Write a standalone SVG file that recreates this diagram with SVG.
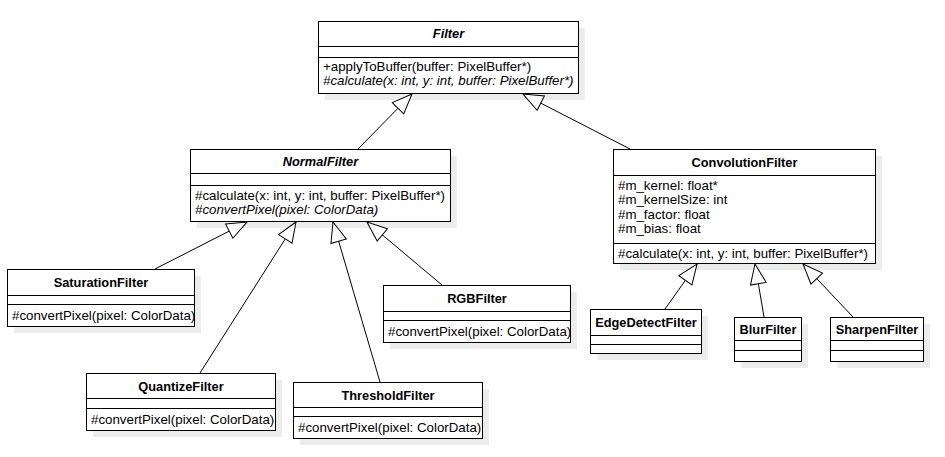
<svg xmlns="http://www.w3.org/2000/svg" width="945" height="457" viewBox="0 0 945 457">
<style>
.shadow{fill:#ececec;stroke:none}
.box{fill:#ffffff;stroke:#000000;stroke-width:1}
.div{stroke:#000000;stroke-width:1}
text{font-family:"Liberation Sans",Arial,sans-serif;font-size:13.3px;fill:#000000}
.title{font-weight:bold;text-anchor:middle;font-size:12.8px}
.abs{font-style:italic}
.conn{fill:none;stroke:#000000;stroke-width:1}
</style>
<defs>
<marker id="gen" markerUnits="userSpaceOnUse" viewBox="-1 -1 22 18" refX="20" refY="8" markerWidth="22" markerHeight="18" orient="auto">
<path d="M0,0 L20,8 L0,16 Z" fill="#ffffff" stroke="#000000" stroke-width="1"/>
</marker>
</defs>
<rect width="945" height="457" fill="#ffffff"/>

<g id="Filter">
<rect class="shadow" x="325" y="28" width="260" height="72"/>
<rect class="box" x="318.5" y="21.5" width="260" height="72"/>
<line class="div" x1="318.5" y1="46.5" x2="578.5" y2="46.5"/>
<line class="div" x1="318.5" y1="57.5" x2="578.5" y2="57.5"/>
<text class="title abs" x="448.5" y="38">Filter</text>
<text x="323" y="71">+applyToBuffer(buffer: PixelBuffer*)</text>
<text class="abs" x="323" y="85">#calculate(x: int, y: int, buffer: PixelBuffer*)</text>
</g>

<g id="NormalFilter">
<rect class="shadow" x="197" y="156" width="260" height="72"/>
<rect class="box" x="190.5" y="149.5" width="260" height="72"/>
<line class="div" x1="190.5" y1="173.5" x2="450.5" y2="173.5"/>
<line class="div" x1="190.5" y1="185.5" x2="450.5" y2="185.5"/>
<text class="title abs" x="320.5" y="166">NormalFilter</text>
<text x="195" y="200">#calculate(x: int, y: int, buffer: PixelBuffer*)</text>
<text class="abs" x="195" y="214">#convertPixel(pixel: ColorData)</text>
</g>

<g id="ConvolutionFilter">
<rect class="shadow" x="620" y="156" width="262" height="114"/>
<rect class="box" x="613.5" y="149.5" width="262" height="114"/>
<line class="div" x1="613.5" y1="175.5" x2="875.5" y2="175.5"/>
<line class="div" x1="613.5" y1="243.5" x2="875.5" y2="243.5"/>
<text class="title" x="744.5" y="167">ConvolutionFilter</text>
<text x="618" y="190">#m_kernel: float*</text>
<text x="618" y="204">#m_kernelSize: int</text>
<text x="618" y="219">#m_factor: float</text>
<text x="618" y="233">#m_bias: float</text>
<text x="618" y="258">#calculate(x: int, y: int, buffer: PixelBuffer*)</text>
</g>

<g id="SaturationFilter">
<rect class="shadow" x="14" y="276" width="187" height="57"/>
<rect class="box" x="7.5" y="269.5" width="187" height="57"/>
<line class="div" x1="7.5" y1="295.5" x2="194.5" y2="295.5"/>
<line class="div" x1="7.5" y1="304.5" x2="194.5" y2="304.5"/>
<text class="title" x="101" y="287">SaturationFilter</text>
<text x="12" y="320">#convertPixel(pixel: ColorData)</text>
</g>

<g id="RGBFilter">
<rect class="shadow" x="390" y="292" width="187" height="57"/>
<rect class="box" x="383.5" y="285.5" width="187" height="57"/>
<line class="div" x1="383.5" y1="311.5" x2="570.5" y2="311.5"/>
<line class="div" x1="383.5" y1="320.5" x2="570.5" y2="320.5"/>
<text class="title" x="477" y="303">RGBFilter</text>
<text x="388" y="336">#convertPixel(pixel: ColorData)</text>
</g>

<g id="QuantizeFilter">
<rect class="shadow" x="93" y="380" width="189" height="57"/>
<rect class="box" x="86.5" y="373.5" width="189" height="57"/>
<line class="div" x1="86.5" y1="398.5" x2="275.5" y2="398.5"/>
<line class="div" x1="86.5" y1="408.5" x2="275.5" y2="408.5"/>
<text class="title" x="181" y="391">QuantizeFilter</text>
<text x="91" y="424">#convertPixel(pixel: ColorData)</text>
</g>

<g id="ThresholdFilter">
<rect class="shadow" x="300" y="389" width="189" height="56"/>
<rect class="box" x="293.5" y="382.5" width="189" height="56"/>
<line class="div" x1="293.5" y1="407.5" x2="482.5" y2="407.5"/>
<line class="div" x1="293.5" y1="416.5" x2="482.5" y2="416.5"/>
<text class="title" x="388" y="400">ThresholdFilter</text>
<text x="298" y="432">#convertPixel(pixel: ColorData)</text>
</g>

<g id="EdgeDetectFilter">
<rect class="shadow" x="597" y="316" width="111" height="44"/>
<rect class="box" x="590.5" y="309.5" width="111" height="44"/>
<line class="div" x1="590.5" y1="335.5" x2="701.5" y2="335.5"/>
<line class="div" x1="590.5" y1="344.5" x2="701.5" y2="344.5"/>
<text class="title" x="646" y="327">EdgeDetectFilter</text>
</g>

<g id="BlurFilter">
<rect class="shadow" x="741" y="324" width="67" height="44"/>
<rect class="box" x="734.5" y="317.5" width="67" height="44"/>
<line class="div" x1="734.5" y1="340.5" x2="801.5" y2="340.5"/>
<line class="div" x1="734.5" y1="350.5" x2="801.5" y2="350.5"/>
<text class="title" x="768" y="334">BlurFilter</text>
</g>

<g id="SharpenFilter">
<rect class="shadow" x="837" y="324" width="93" height="44"/>
<rect class="box" x="830.5" y="317.5" width="93" height="44"/>
<line class="div" x1="830.5" y1="340.5" x2="923.5" y2="340.5"/>
<line class="div" x1="830.5" y1="350.5" x2="923.5" y2="350.5"/>
<text class="title" x="877" y="334">SharpenFilter</text>
</g>

<g id="connectors">
<line class="conn" x1="358" y1="149" x2="412" y2="94" marker-end="url(#gen)"/>
<line class="conn" x1="630" y1="149" x2="523" y2="94" marker-end="url(#gen)"/>
<line class="conn" x1="155" y1="269" x2="247" y2="222" marker-end="url(#gen)"/>
<line class="conn" x1="200" y1="373" x2="296" y2="222" marker-end="url(#gen)"/>
<line class="conn" x1="380" y1="382" x2="333" y2="222" marker-end="url(#gen)"/>
<line class="conn" x1="442" y1="285" x2="367" y2="222" marker-end="url(#gen)"/>
<line class="conn" x1="665" y1="309" x2="697" y2="264" marker-end="url(#gen)"/>
<line class="conn" x1="764" y1="317" x2="755" y2="264" marker-end="url(#gen)"/>
<line class="conn" x1="853" y1="317" x2="803" y2="264" marker-end="url(#gen)"/>
</g>
</svg>
